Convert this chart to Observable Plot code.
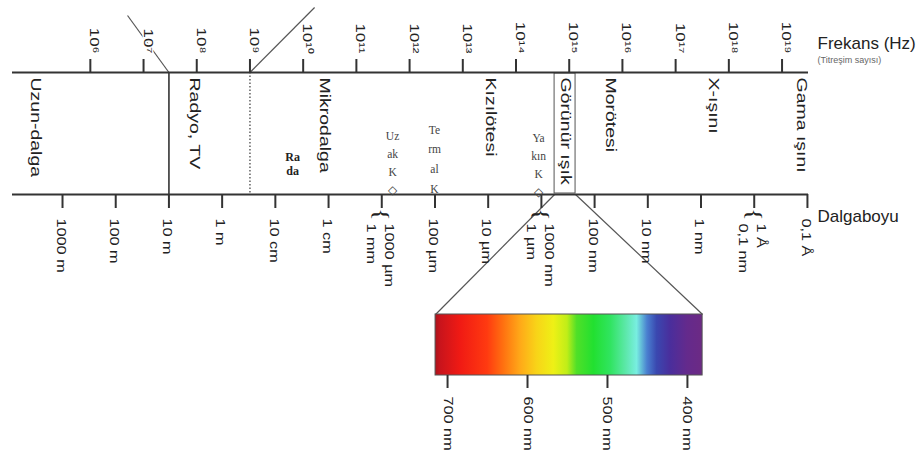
<!DOCTYPE html>
<html>
<head>
<meta charset="utf-8">
<script src="https://cdn.jsdelivr.net/npm/d3@7"></script>
<script src="https://cdn.jsdelivr.net/npm/@observablehq/plot@0.6"></script>
<style>
  html, body { margin: 0; padding: 0; background: #fff; }
</style>
</head>
<body>
<div id="chart"></div>
<script>
// ---------------- data ----------------
// frequency ticks: 10^n Hz
const freqExponents = [6, 7, 8, 9, 10, 11, 12, 13, 14, 15, 16, 17, 18, 19];
// wavelength ticks (metres) and their labels
const wavelengthTicks = [1e3, 1e2, 1e1, 1, 1e-1, 1e-2, 1e-3, 1e-4, 1e-5, 1e-6, 1e-7, 1e-8, 1e-9, 1e-10, 1e-11];
const wavelengthLabels = ["1000 m", "100 m", "10 m", "1 m", "10 cm", "1 cm", "1000 µm\n1 mm", "100 µm", "10 µm",
  "1000 nm\n1 µm", "100 nm", "10 nm", "1 nm", "1 Å\n0,1 nm", "0,1 Å"];
const bracedTicks = [1e-3, 1e-6, 1e-10];
// band names and the wavelength (m) at the centre of each name
const bandNames = ["Uzun-dalga", "Radyo, TV", "Mikrodalga", "Kızılötesi", "Görünür ışık", "Morötesi", "X-ışını", "Gama ışını"];
const bandCenters = [3200, 3.2, 0.012, 9e-6, 3.5e-7, 5e-8, 5.8e-10, 1.3e-11];
// band boundaries (m)
const solidBoundaries = [10];
const dottedBoundaries = [0.3];
const visibleEdges = [5.65e-7, 2.28e-7];
// small sub-band notes
const noteTexts = ["Ra\nda", "Uz\nak\nK\n◇", "Te\nrm\nal\nK", "Ya\nkın\nK\n◇"];
const noteCenters = [0.0475, 6.27e-4, 1.02e-4, 1.13e-6];
// stray guide lines (wavelength at each end, m)
const guideFrom = [60, 0.3];
const guideTo = [10, 0.0183];
// visible spectrum inset (nm)
const barNmRange = [715, 381];
const barTicksNm = [700, 600, 500, 400];
const barLabels = ["700 nm", "600 nm", "500 nm", "400 nm"];
const spectrumNm = [715, 709, 684, 650, 630, 609, 588, 567, 550, 538, 517, 496, 475, 463, 450, 438, 421, 400, 381];
const spectrumColors = ["#a8141c", "#c8141c", "#f01a14", "#ff3a10", "#ff7010", "#ffa818", "#f8d418", "#eef016",
  "#c0ee18", "#50e028", "#22e030", "#30e460", "#60e8b0", "#78eee0", "#4a80d0", "#3a48b0", "#4a2e9c", "#642a8c", "#6c2a84"];

// ---------------- layout ----------------
const W = 920, H = 459;
const xDomain = [-3.94, 11.02];           // log10(1/λ) at the two axis ends
const Y = {
  freqLabelEnd: 53, freqTickTop: 59, top: 72, bandLabel: 77, bottom: 194, tickEnd: 208,
  brace: 214, wlLabel: 218, wlLabel2: 223, barTop: 314, barBottom: 375, barTickEnd: 388, barLabel: 396
};
const barE = [4.011, 9.03];               // inset ends on the main axis
const c = 3e8;
const E = lambda => -Math.log10(lambda);
const EF = n => n - Math.log10(c);
const nmToE = nm => barE[0] + (barNmRange[0] - nm) / (barNmRange[0] - barNmRange[1]) * (barE[1] - barE[0]);
const supDigits = "⁰¹²³⁴⁵⁶⁷⁸⁹";
const sup = n => String(n).split("").map(d => supDigits[+d]).join("");

const SANS = "Liberation Sans, Arial, Helvetica, sans-serif";
const SERIF = "Liberation Serif, Times New Roman, serif";
const INK = "#222";

const wl = wavelengthTicks.map((v, i) => ({v, label: wavelengthLabels[i]}));
const bands = bandNames.map((name, i) => ({name, v: bandCenters[i]}));
const notes = noteTexts.map((t, i) => ({t, v: noteCenters[i]}));
const guides = guideFrom.map((f, i) => ({f, t: guideTo[i]}));
const connectors = [{v: visibleEdges[0], nm: barNmRange[0]}, {v: visibleEdges[1], nm: barNmRange[1]}];
const barTicks = barTicksNm.map((nm, i) => ({nm, label: barLabels[i]}));

const svg = Plot.plot({
  width: W, height: H,
  marginLeft: 12, marginRight: W - 808, marginTop: 0, marginBottom: 0,
  x: {domain: xDomain, axis: null},
  y: {domain: [0, H], range: [0, H], axis: null},
  style: {background: "white", fontFamily: SANS, color: INK},
  marks: [
    // stray guide lines
    Plot.link(guides, {x1: d => E(d.f), x2: d => E(d.t), y1: (d, i) => i === 0 ? 15 : Y.top, y2: (d, i) => i === 0 ? Y.top : 7,
      stroke: "#555", strokeWidth: 1.2}),
    // connectors to the visible-spectrum inset
    Plot.link(connectors, {x1: d => E(d.v), y1: Y.bottom, x2: d => nmToE(d.nm), y2: Y.barTop, stroke: "#555", strokeWidth: 1.2}),
    // band boundaries
    Plot.ruleX(solidBoundaries, {x: E, y1: Y.top, y2: Y.bottom, stroke: "#333", strokeWidth: 1.6}),
    Plot.ruleX(dottedBoundaries, {x: E, y1: Y.top, y2: Y.bottom, stroke: "#555", strokeWidth: 1.4, strokeDasharray: "1.5,2"}),
    Plot.rect([visibleEdges], {x1: d => E(d[0]), x2: d => E(d[1]), y1: Y.top + 1, y2: Y.bottom - 1, fill: "none", stroke: "#555", strokeWidth: 1}),
    // axes
    Plot.ruleY([Y.top, Y.bottom], {y: d => d, x1: xDomain[0], x2: xDomain[1], stroke: "#333", strokeWidth: 2}),
    // frequency ticks & labels
    Plot.ruleX(freqExponents, {x: EF, y1: Y.freqTickTop, y2: Y.top, stroke: "#333", strokeWidth: 2}),
    Plot.text(freqExponents, {x: EF, y: Y.freqLabelEnd, text: n => "10" + sup(n), rotate: 90, textAnchor: "end",
      lineAnchor: "bottom", fontSize: 13, fill: INK, stroke: "white", strokeWidth: 3}),
    // wavelength ticks & labels
    Plot.ruleX(wavelengthTicks, {x: E, y1: Y.bottom, y2: Y.tickEnd, stroke: "#333", strokeWidth: 2}),
    Plot.text(bracedTicks, {x: E, y: Y.brace, text: () => "{", rotate: 90, textAnchor: "middle", lineAnchor: "middle",
      fontSize: 20, fontFamily: SERIF, fill: INK}),
    Plot.text(wl, {x: d => E(d.v), y: d => d.label.includes("\n") ? Y.wlLabel2 : Y.wlLabel, text: "label", rotate: 90,
      textAnchor: "start", lineAnchor: "middle", lineHeight: 1.45, fontSize: 12.5, fill: INK}),
    // band names
    Plot.text(bands, {x: d => E(d.v), y: Y.bandLabel, text: "name", rotate: 90, textAnchor: "start", lineAnchor: "middle",
      fontSize: 15, fill: INK}),
    // small notes
    Plot.text(notes.slice(0, 1), {x: d => E(d.v), y: 174, text: "t", lineAnchor: "bottom", lineHeight: 1.13, fontSize: 12,
      fontWeight: "bold", fontFamily: SERIF, fill: "#222"}),
    Plot.text(notes.slice(1, 2), {x: d => E(d.v), y: 193, text: "t", lineAnchor: "bottom", lineHeight: 1.55, fontSize: 11.5,
      fontFamily: SERIF, fill: "#444"}),
    Plot.text(notes.slice(2, 3), {x: d => E(d.v), y: 192, text: "t", lineAnchor: "bottom", lineHeight: 1.7, fontSize: 11.5,
      fontFamily: SERIF, fill: "#444"}),
    Plot.text(notes.slice(3, 4), {x: d => E(d.v), y: 195, text: "t", lineAnchor: "bottom", lineHeight: 1.55, fontSize: 11.5,
      fontFamily: SERIF, fill: "#444"}),
    // axis titles
    Plot.text(["Frekans (Hz)"], {x: xDomain[1], dx: 9, y: 48, text: d => d, textAnchor: "start", lineAnchor: "bottom", fontSize: 17, fill: INK}),
    Plot.text(["(Titreşim sayısı)"], {x: xDomain[1], dx: 9, y: 62, text: d => d, textAnchor: "start", lineAnchor: "bottom", fontSize: 9, fill: "#666"}),
    Plot.text(["Dalgaboyu"], {x: xDomain[1], dx: 9, y: 221, text: d => d, textAnchor: "start", lineAnchor: "bottom", fontSize: 17, fill: INK}),
    // visible spectrum inset
    Plot.rect([barNmRange], {x1: d => nmToE(d[0]), x2: d => nmToE(d[1]), y1: Y.barTop, y2: Y.barBottom,
      fill: "url(#visible-spectrum)", stroke: "#555", strokeWidth: 1}),
    Plot.ruleX(barTicks, {x: d => nmToE(d.nm), y1: Y.barBottom, y2: Y.barTickEnd, stroke: "#333", strokeWidth: 2}),
    Plot.text(barTicks, {x: d => nmToE(d.nm), y: Y.barLabel, text: "label", rotate: 90, textAnchor: "start",
      lineAnchor: "middle", fontSize: 12.5, fill: INK})
  ]
});

// gradient for the visible spectrum
const root = d3.select(svg);
const grad = root.insert("defs", ":first-child").append("linearGradient")
  .attr("id", "visible-spectrum").attr("x1", 0).attr("x2", 1).attr("y1", 0).attr("y2", 0);
grad.selectAll("stop").data(spectrumNm).join("stop")
  .attr("offset", nm => (barNmRange[0] - nm) / (barNmRange[0] - barNmRange[1]))
  .attr("stop-color", (nm, i) => spectrumColors[i]);

// the reference's rotated text is stretched along its reading direction
root.selectAll("text").each(function () {
  const t = this.getAttribute("transform");
  if (t && t.includes("rotate(90)")) this.setAttribute("transform", t + " scale(1.3,1)");
});

document.getElementById("chart").appendChild(svg);
</script>
</body>
</html>
